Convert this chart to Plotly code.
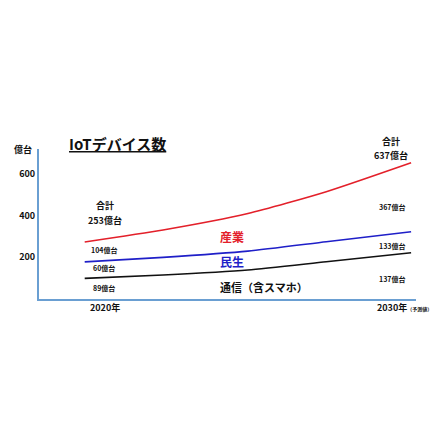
import plotly.graph_objects as go

# Data (cumulative line heights, 億台)
years = [2020, 2022.4, 2025, 2027.4, 2030]
sangyo = [274, 331, 410, 515, 654]     # 産業 (top line = total)
minsei = [178, 200, 230, 275, 323]     # 民生
tsushin = [99, 115, 139, 179, 222]     # 通信（含スマホ）

y_ticks = [200, 400, 600]
y_tick_labels = ["200", "400", "600"]

FONT = "Noto Sans CJK JP"
YMAX = 720
XR = [2018.6, 2030.15]

fig = go.Figure()
for vals, col in [(sangyo, "#e3202a"), (minsei, "#1f1fc8"), (tsushin, "#111111")]:
    fig.add_trace(go.Scatter(x=years, y=vals, mode="lines",
                             line=dict(color=col, width=1.6, shape="spline", smoothing=0.6),
                             hoverinfo="skip", showlegend=False))

def ann(x, y, text, size, color="#111111", xanchor="center"):
    px = (x - XR[0]) / (XR[1] - XR[0])
    py = y / YMAX
    fig.add_annotation(x=px, y=py, xref="paper", yref="paper", text=text, showarrow=False,
                       xanchor=xanchor, yanchor="middle",
                       font=dict(family=FONT, size=size, color=color, weight="bold"))

ann(2020.63, 451, "合計", 9)
ann(2020.63, 379, "253億台", 9)
ann(2020.6, 235, "104億台", 7)
ann(2020.6, 149, "60億台", 7)
ann(2020.6, 53, "89億台", 7)
ann(2020.63, -43, "2020年", 9)
ann(2024.08, 302, "産業", 12, "#e3202a", "left")
ann(2024.08, 182, "民生", 12, "#1f1fc8", "left")
ann(2024.08, 58, "通信（含スマホ）", 11, "#111111", "left")
ann(2029.38, 754, "合計", 9)
ann(2029.38, 691, "637億台", 9)
ann(2029.4, 442, "367億台", 7)
ann(2029.4, 254, "133億台", 7)
ann(2029.4, 96, "137億台", 7)
ann(2028.88, -40, "2030年<span style='font-size:5px'>（予測値）</span>", 9, xanchor="left")

fig.add_annotation(x=0.075, y=1.04, xref="paper", yref="paper", text="<u>IoTデバイス数</u>",
                   showarrow=False, xanchor="left", yanchor="middle",
                   font=dict(family=FONT, size=15, color="#111111", weight="bold"))
fig.add_annotation(x=-0.012, y=1.0, xref="paper", yref="paper", text="億台",
                   showarrow=False, xanchor="right", yanchor="middle",
                   font=dict(family=FONT, size=9, color="#111111", weight="bold"))

fig.update_layout(
    width=448, height=448,
    margin=dict(l=39, r=32, t=149, b=149),
    paper_bgcolor="white", plot_bgcolor="white",
    xaxis=dict(range=XR, showgrid=False, zeroline=False, showticklabels=False,
               showline=True, linecolor="#6a9fd2", linewidth=2, ticks=""),
    yaxis=dict(range=[0, YMAX], showgrid=False, zeroline=False, tickvals=y_ticks,
               ticktext=y_tick_labels, showline=True, linecolor="#6a9fd2", linewidth=2,
               ticks="", tickfont=dict(family=FONT, size=9, color="#111111", weight="bold")),
)

fig.write_html("out.html", config={"displayModeBar": False},
               post_script="document.body.style.margin='0';document.body.style.overflow='hidden';")
